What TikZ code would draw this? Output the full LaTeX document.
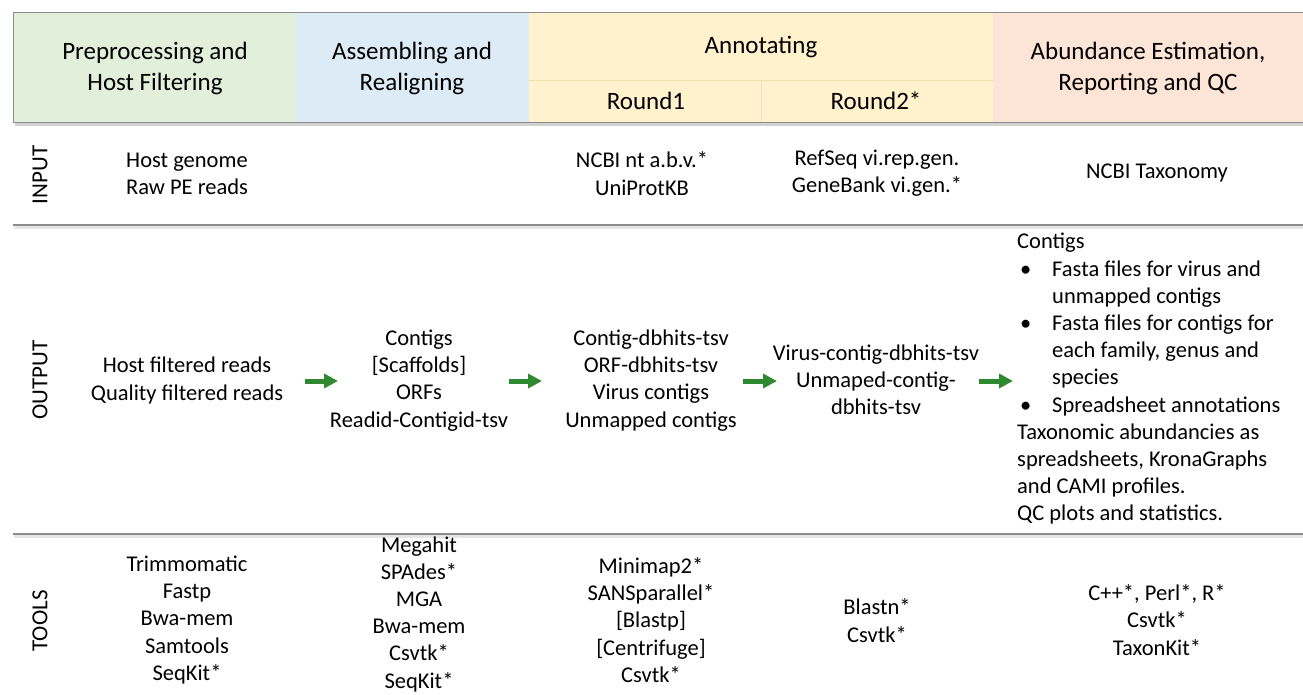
\documentclass[tikz,border=0pt]{standalone}
\usepackage{fontspec}
\setmainfont{Carlito}
\usetikzlibrary{arrows.meta}
\definecolor{hgreen}{HTML}{E2EFDA}
\definecolor{hblue}{HTML}{DDEBF7}
\definecolor{hyellow}{HTML}{FFF2CC}
\definecolor{hpink}{HTML}{FCE4D6}
\definecolor{ydiv}{HTML}{F0E0B0}
\definecolor{arrgreen}{RGB}{47,138,47}
\tikzset{
  head/.style={font=\fontsize{25}{31}\selectfont, align=center, inner sep=0pt},
  body/.style={font=\fontsize{22.5}{27.2}\selectfont, align=center, inner sep=0pt},
  bodyl/.style={font=\fontsize{22.5}{27.2}\selectfont, align=left, inner sep=0pt},
  rowlab/.style={font=\fontsize{23}{27}\selectfont, rotate=90, inner sep=0pt},
  sepline/.style={line width=1.5pt, black!45},
  sepshadow/.style={line width=2.5pt, black!10},
  flowarrow/.style={line width=5pt, arrgreen, -{Triangle[length=14pt,width=14pt]}}
}
\newcommand{\bul}{\hspace*{3pt}\makebox[32pt][l]{•}}
\newcommand{\ind}{\hspace*{35pt}}
\begin{document}
\begin{tikzpicture}[x=1pt,y=-1pt]
\useasboundingbox (0,0) rectangle (1303,695);
\clip (0,0) rectangle (1303,695);
\fill[white] (0,0) rectangle (1303,695);
% header shadow
\fill[black!18] (15,16) rectangle (1303,126.5);
% header fills
\fill[hgreen] (13,13) rectangle (296,123);
\fill[hblue] (296,13) rectangle (529,123);
\fill[hyellow] (529,13) rectangle (993,123);
\fill[hpink] (993,13) rectangle (1303,123);
\draw[ydiv, line width=0.8pt] (529,80) -- (993,80);
\draw[ydiv, line width=0.8pt] (761,80) -- (761,123);
\draw[black!45, line width=1pt] (1304,13) -- (13,13) -- (13,123) -- (1304,123);
% separators
\draw[sepshadow] (14,227.5) -- (1303,227.5);
\draw[sepline] (13,225) -- (1303,225);
\draw[sepshadow] (14,536.5) -- (1303,536.5);
\draw[sepline] (13,534) -- (1303,534);
% header texts
\node[head] (h1) at (155,68) {Preprocessing and\\Host Filtering};
\node[head] (h2) at (412,68) {Assembling and\\Realigning};
\node[head] (h3) at (761,47) {Annotating};
\node[head] (h3a) at (646,101) {Round1};
\node[head] (h3b) at (876,101) {Round2*};
\node[head] (h4) at (1148,68) {Abundance Estimation,\\Reporting and QC};
% row labels
\node[rowlab] (lin) at (40,175) {INPUT};
\node[rowlab] (lout) at (40,380) {OUTPUT};
\node[rowlab] (ltools) at (40,621) {TOOLS};
% input row
\node[body] (i1) at (187,173.5) {Host genome\\Raw PE reads};
\node[body] (i3) at (642,173.5) {NCBI nt a.b.v.*\\UniProtKB};
\node[body] (i4) at (877,173.5) {RefSeq vi.rep.gen.\\GeneBank vi.gen.*};
\node[body] (i5) at (1157,173.5) {NCBI Taxonomy};
% output row
\node[body] (o1) at (187,380.5) {Host filtered reads\\Quality filtered reads};
\node[body] (o2) at (419,380.5) {Contigs\\{}[Scaffolds]\\ORFs\\Readid-Contigid-tsv};
\node[body] (o3) at (651,380.5) {Contig-dbhits-tsv\\ORF-dbhits-tsv\\Virus contigs\\Unmapped contigs};
\node[body] (o4) at (876,380) {Virus-contig-dbhits-tsv\\Unmaped-contig-\\dbhits-tsv};
\node[bodyl, anchor=west] (o5) at (1017,379) {Contigs\\
\bul Fasta files for virus and\\
\ind unmapped contigs\\
\bul Fasta files for contigs for\\
\ind each family, genus and\\
\ind species\\
\bul Spreadsheet annotations\\
Taxonomic abundancies as\\
spreadsheets, KronaGraphs\\
and CAMI profiles.\\
QC plots and statistics.};
% arrows
\coordinate (a1s) at (305,381); \coordinate (a1e) at (338,381);
\coordinate (a2s) at (509,381); \coordinate (a2e) at (542,381);
\coordinate (a3s) at (743,381); \coordinate (a3e) at (777,381);
\coordinate (a4s) at (979,381); \coordinate (a4e) at (1013,381);
\draw[flowarrow] (a1s) -- (a1e);
\draw[flowarrow] (a2s) -- (a2e);
\draw[flowarrow] (a3s) -- (a3e);
\draw[flowarrow] (a4s) -- (a4e);
% tools row
\node[body] (t1) at (187,620) {Trimmomatic\\Fastp\\Bwa-mem\\Samtools\\SeqKit*};
\node[body] (t2) at (419,614) {Megahit\\SPAdes*\\MGA\\Bwa-mem\\Csvtk*\\SeqKit*};
\node[body] (t3) at (651,620) {Minimap2*\\SANSparallel*\\{}[Blastp]\\{}[Centrifuge]\\Csvtk*};
\node[body] (t4) at (877,620.5) {Blastn*\\Csvtk*};
\node[body] (t5) at (1157,620) {C++*, Perl*, R*\\Csvtk*\\TaxonKit*};
\end{tikzpicture}
\end{document}
